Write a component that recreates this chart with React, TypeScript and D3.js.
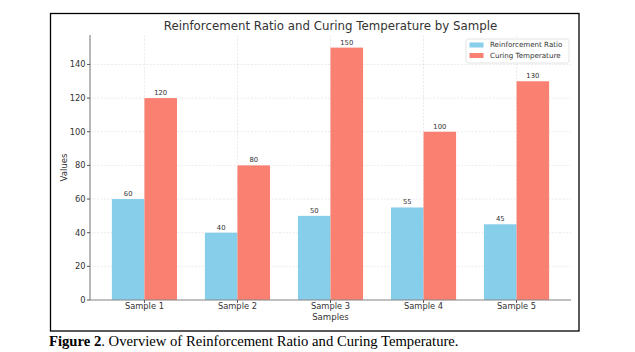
import React, { useEffect, useRef } from "react";
import * as d3 from "d3";

const samples = ["Sample 1", "Sample 2", "Sample 3", "Sample 4", "Sample 5"];
const reinforcementRatio = [60, 40, 50, 55, 45];
const curingTemperature = [120, 80, 150, 100, 130];
const yTicks = [0, 20, 40, 60, 80, 100, 120, 140];

const seriesNames = ["Reinforcement Ratio", "Curing Temperature"];
const seriesColors = ["#87CEEB", "#FA8072"];

const App = () => {
  const ref = useRef<SVGSVGElement | null>(null);

  useEffect(() => {
    const svg = d3.select(ref.current);
    svg.selectAll("*").remove();

    const font = "DejaVu Sans, sans-serif";
    const barWidth = 0.35;
    const n = samples.length;
    const pad = (n - 1 + 2 * barWidth) * 0.05;

    const x = d3
      .scaleLinear()
      .domain([-barWidth - pad, n - 1 + barWidth + pad])
      .range([90, 571]);
    const yMax = d3.max(curingTemperature)! * 1.05;
    const y = d3.scaleLinear().domain([0, yMax]).range([300, 35]);

    // outer frame around the figure
    svg
      .append("rect")
      .attr("x", 50.5)
      .attr("y", 13.5)
      .attr("width", 528.5)
      .attr("height", 317.5)
      .attr("fill", "white")
      .attr("stroke", "black")
      .attr("stroke-width", 1.3);

    // grid
    const grid = svg.append("g").attr("stroke", "#dcdcdc").attr("stroke-width", 0.6).attr("stroke-dasharray", "2,1.5");
    grid
      .selectAll("line.h")
      .data(yTicks)
      .enter()
      .append("line")
      .attr("x1", x.range()[0])
      .attr("x2", x.range()[1])
      .attr("y1", (d) => y(d))
      .attr("y2", (d) => y(d));
    grid
      .selectAll("line.v")
      .data(samples)
      .enter()
      .append("line")
      .attr("x1", (_, i) => x(i))
      .attr("x2", (_, i) => x(i))
      .attr("y1", y.range()[0])
      .attr("y2", y.range()[1]);

    const series = [reinforcementRatio, curingTemperature];
    series.forEach((values, s) => {
      const offset = s === 0 ? -barWidth : 0;
      const g = svg.append("g");
      g.selectAll("rect")
        .data(values)
        .enter()
        .append("rect")
        .attr("x", (_, i) => x(i + offset))
        .attr("width", x(barWidth) - x(0))
        .attr("y", (d) => y(d))
        .attr("height", (d) => y(0) - y(d))
        .attr("fill", seriesColors[s]);
      g.selectAll("text")
        .data(values)
        .enter()
        .append("text")
        .attr("x", (_, i) => x(i + offset + barWidth / 2))
        .attr("y", (d) => y(d) - 3)
        .attr("text-anchor", "middle")
        .attr("font-family", font)
        .attr("font-size", 6.8)
        .attr("fill", "#333")
        .text((d) => d);
    });

    // spines
    svg
      .append("line")
      .attr("x1", x.range()[0])
      .attr("x2", x.range()[0])
      .attr("y1", y.range()[0])
      .attr("y2", y.range()[1])
      .attr("stroke", "#888")
      .attr("stroke-width", 1.2);
    svg
      .append("line")
      .attr("x1", x.range()[0])
      .attr("x2", x.range()[1])
      .attr("y1", y.range()[0])
      .attr("y2", y.range()[0])
      .attr("stroke", "#888")
      .attr("stroke-width", 1.2);

    // y ticks
    const yt = svg.append("g");
    yt.selectAll("line")
      .data(yTicks)
      .enter()
      .append("line")
      .attr("x1", x.range()[0] - 3)
      .attr("x2", x.range()[0])
      .attr("y1", (d) => y(d))
      .attr("y2", (d) => y(d))
      .attr("stroke", "#555");
    yt.selectAll("text")
      .data(yTicks)
      .enter()
      .append("text")
      .attr("x", x.range()[0] - 4.5)
      .attr("y", (d) => y(d))
      .attr("dy", "0.35em")
      .attr("text-anchor", "end")
      .attr("font-family", font)
      .attr("font-size", 8.3)
      .attr("fill", "#333")
      .text((d) => d);

    // x ticks
    const xt = svg.append("g");
    xt.selectAll("line")
      .data(samples)
      .enter()
      .append("line")
      .attr("x1", (_, i) => x(i))
      .attr("x2", (_, i) => x(i))
      .attr("y1", y(0))
      .attr("y2", y(0) + 3)
      .attr("stroke", "#555");
    xt.selectAll("text")
      .data(samples)
      .enter()
      .append("text")
      .attr("x", (_, i) => x(i))
      .attr("y", y(0) + 9)
      .attr("text-anchor", "middle")
      .attr("font-family", font)
      .attr("font-size", 8.3)
      .attr("fill", "#333")
      .text((d) => d);

    // axis labels and title
    svg
      .append("text")
      .attr("x", (x.range()[0] + x.range()[1]) / 2)
      .attr("y", 320)
      .attr("text-anchor", "middle")
      .attr("font-family", font)
      .attr("font-size", 8.6)
      .attr("fill", "#333")
      .text("Samples");
    svg
      .append("text")
      .attr("transform", `translate(66.5, ${(y.range()[0] + y.range()[1]) / 2}) rotate(-90)`)
      .attr("text-anchor", "middle")
      .attr("font-family", font)
      .attr("font-size", 8.6)
      .attr("fill", "#333")
      .text("Values");
    svg
      .append("text")
      .attr("x", (x.range()[0] + x.range()[1]) / 2)
      .attr("y", 30)
      .attr("text-anchor", "middle")
      .attr("font-family", font)
      .attr("font-size", 11.8)
      .attr("fill", "#333")
      .text("Reinforcement Ratio and Curing Temperature by Sample");

    // legend
    const legend = svg.append("g").attr("transform", "translate(466, 39)");
    legend
      .append("rect")
      .attr("width", 103)
      .attr("height", 24)
      .attr("rx", 2)
      .attr("fill", "white")
      .attr("fill-opacity", 0.85)
      .attr("stroke", "#ddd")
      .attr("stroke-width", 0.8);
    seriesNames.forEach((name, i) => {
      legend
        .append("rect")
        .attr("x", 3.5)
        .attr("y", 3.5 + i * 10.5)
        .attr("width", 14)
        .attr("height", 5)
        .attr("fill", seriesColors[i]);
      legend
        .append("text")
        .attr("x", 24)
        .attr("y", 6 + i * 10.5)
        .attr("dy", "0.35em")
        .attr("font-family", font)
        .attr("font-size", 7.1)
        .attr("fill", "#333")
        .text(name);
    });

    // caption
    const caption = svg
      .append("text")
      .attr("x", 49)
      .attr("y", 346)
      .attr("font-family", "Liberation Serif, Times New Roman, serif")
      .attr("font-size", 14.67)
      .attr("fill", "black");
    caption.append("tspan").attr("font-weight", "bold").text("Figure 2");
    caption.append("tspan").text(". Overview of Reinforcement Ratio and Curing Temperature.");
  }, []);

  return (
    <svg
      ref={ref}
      width={635}
      height={352}
      style={{ position: "absolute", left: 0, top: 0, background: "white" }}
    />
  );
};

export default App;
